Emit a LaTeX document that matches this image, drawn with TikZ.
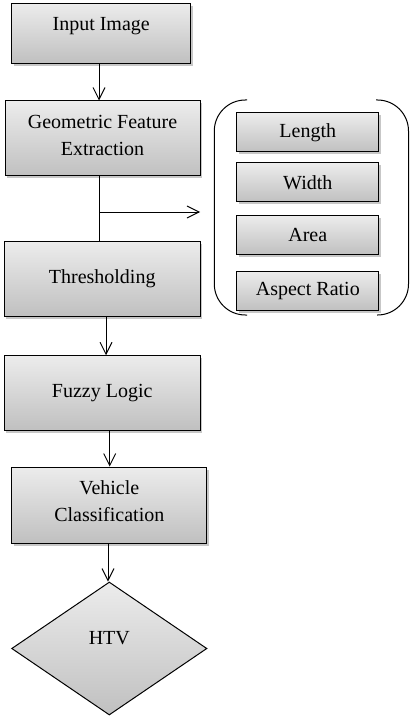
\documentclass[tikz,border=0pt]{standalone}
\usepackage{fontspec}
\setmainfont{Liberation Serif}
\usetikzlibrary{arrows.meta,shapes.geometric,shadows}
\definecolor{boxtop}{RGB}{236,236,236}
\definecolor{boxbot}{RGB}{192,192,192}
\begin{document}
\begin{tikzpicture}[x=1pt,y=-1pt,
  txt/.style={font=\fontsize{20}{27}\selectfont,align=center,inner sep=0pt},
  box/.style={draw=black,line width=1pt,rectangle,top color=boxtop,bottom color=boxbot,
    drop shadow={shadow xshift=2pt,shadow yshift=-2.5pt,fill=black,opacity=.22},
    txt},
  dec/.style={draw=black,line width=1pt,diamond,top color=boxtop,bottom color=boxbot,
    txt},
  conn/.style={draw=black,line width=0.9pt},
  arr/.style={conn,-{Straight Barb[length=12pt,width=12pt,line width=0.9pt]}},
  brk/.style={draw=black,line width=1pt,rounded corners=31pt}]
\useasboundingbox (0,0) rectangle (411,719);
% main flow
\node[box,minimum width=179pt,minimum height=59.7pt,text height=13pt,text depth=18pt] (in) at (101.2,33.2) {Input Image};
\node[box,minimum width=195pt,minimum height=75pt,
  label={[txt,yshift=3.5pt]center:Geometric Feature\\Extraction}] (gfe) at (102.5,138.5) {};
\node[box,minimum width=195.7pt,minimum height=74.3pt] (thr) at (102.2,278.9) {Thresholding};
\node[box,minimum width=195.7pt,minimum height=74.3pt] (fz) at (102.2,392.9) {Fuzzy Logic};
\node[box,minimum width=195.3pt,minimum height=76pt,
  label={[txt,yshift=3.5pt]center:Vehicle\\Classification}] (vc) at (109.3,505) {};
\node[dec,minimum width=195.3pt,minimum height=133pt,text height=13pt,text depth=22pt] (htv) at (109.3,648.5) {HTV};
% feature boxes
\node[box,minimum width=142.3pt,minimum height=39pt] (len) at (307.8,132.5) {Length};
\node[box,minimum width=142.3pt,minimum height=39pt] (wid) at (307.8,182.5) {Width};
\node[box,minimum width=142.3pt,minimum height=39pt] (are) at (307.8,235) {Area};
\node[box,minimum width=142.3pt,minimum height=39pt] (asp) at (307.8,291) {Aspect Ratio};
% bracket group
\draw[brk] (247,100) -- (214.3,100) -- (214.3,315) -- (247,315);
\draw[brk] (376,100) -- (408.5,100) -- (408.5,315) -- (377,315);
% connectors
\draw[arr] ([xshift=-2.2pt]in.south) -- ([xshift=-2.2pt]in.south |- gfe.north);
\coordinate (j) at (99,212);
\coordinate (tip) at (200,212);
\draw[conn] (gfe.south -| j) -- (thr.north -| j);
\draw[arr] (j) -- (tip);
\draw[arr] ([xshift=3.8pt]thr.south) -- ([xshift=3.8pt]thr.south |- fz.north);
\draw[arr] ([xshift=7.5pt]fz.south) -- ([xshift=7.5pt]fz.south |- vc.north);
\draw[arr] ([xshift=-1.3pt]vc.south) -- ([xshift=-1.3pt]vc.south |- htv.north);
\end{tikzpicture}
\end{document}
